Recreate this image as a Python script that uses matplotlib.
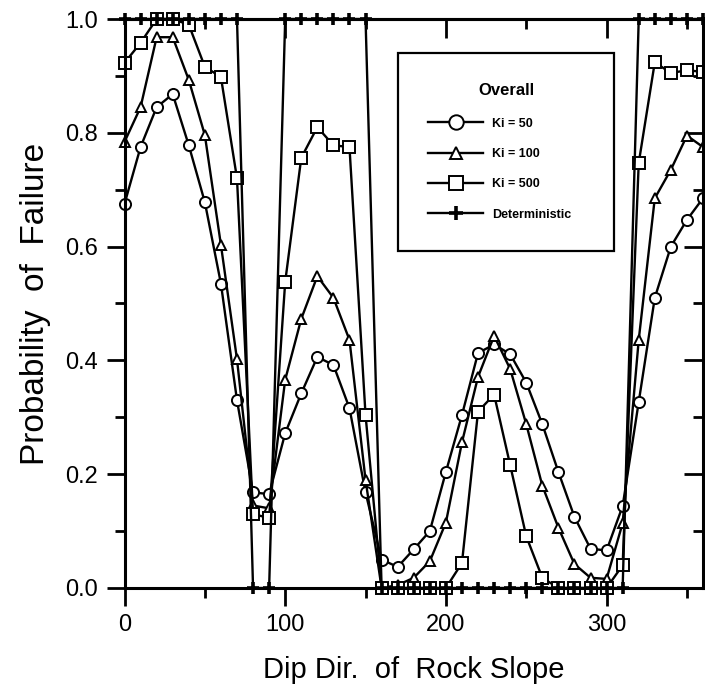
import numpy as np
import matplotlib
matplotlib.use("Agg")
import matplotlib.pyplot as plt

plt.rcParams['font.family'] = ['Liberation Sans', 'DejaVu Sans']

# dip direction of rock slope (degrees)
dip_dir = np.arange(0, 361, 10)

# probability of failure
ki_50 = [0.675, 0.775, 0.845, 0.868, 0.778, 0.678, 0.535, 0.33, 0.168, 0.165,
         0.272, 0.342, 0.406, 0.392, 0.316, 0.168, 0.05, 0.037, 0.068, 0.1,
         0.204, 0.304, 0.413, 0.428, 0.411, 0.361, 0.288, 0.204, 0.125, 0.069,
         0.066, 0.144, 0.327, 0.51, 0.6, 0.647, 0.685]
ki_100 = [0.784, 0.845, 0.968, 0.968, 0.893, 0.796, 0.603, 0.402, 0.145, 0.14,
          0.366, 0.473, 0.548, 0.51, 0.436, 0.19, 0.0, 0.005, 0.018, 0.047,
          0.115, 0.256, 0.371, 0.443, 0.385, 0.288, 0.18, 0.106, 0.042, 0.018,
          0.016, 0.114, 0.436, 0.685, 0.735, 0.795, 0.775]
ki_500 = [0.923, 0.958, 1.0, 1.0, 0.99, 0.916, 0.898, 0.72, 0.13, 0.123,
          0.538, 0.756, 0.81, 0.778, 0.775, 0.304, 0.0, 0.0, 0.0, 0.0,
          0.0, 0.044, 0.31, 0.34, 0.216, 0.091, 0.018, 0.0, 0.0, 0.0,
          0.0, 0.04, 0.747, 0.924, 0.905, 0.91, 0.907]
deterministic = [1, 1, 1, 1, 1, 1, 1, 1, 0, 0,
                 1, 1, 1, 1, 1, 1, 0, 0, 0, 0,
                 0, 0, 0, 0, 0, 0, 0, 0, 0, 0,
                 0, 0, 1, 1, 1, 1, 1]

series = [("Ki = 50", ki_50, "o", 8),
          ("Ki = 100", ki_100, "^", 7),
          ("Ki = 500", ki_500, "s", 8)]

fig = plt.figure(figsize=(7.05, 6.95), dpi=100)
ax = fig.add_axes([124.5 / 705, 1 - 588 / 695, (703 - 124.5) / 705, (588 - 19) / 695])

for label, vals, mk, ms in series:
    ax.plot(dip_dir, vals, color='black', lw=1.7, marker=mk, ms=ms,
            mfc='white', mec='black', mew=1.4, label=label, clip_on=False)
ax.plot(dip_dir, deterministic, color='black', lw=1.7, marker='+', ms=8,
        mew=2.6, label='Deterministic', clip_on=False, zorder=3)

ax.set_xlim(0, 360)
ax.set_ylim(0, 1.0)
ax.set_xticks([0, 100, 200, 300])
ax.set_xticks([50, 150, 250, 350], minor=True)
ax.set_yticks(np.arange(0, 1.01, 0.2))
ax.set_yticks(np.arange(0.1, 1.0, 0.2), minor=True)
ax.set_yticklabels([f"{v:.1f}" for v in np.arange(0, 1.01, 0.2)])

for s in ax.spines.values():
    s.set_linewidth(2.2)
ax.tick_params(which='both', direction='out', width=2, labelsize=17,
               top=False, right=False)
ax.tick_params(which='major', length=13, pad=6)
ax.tick_params(which='minor', length=7)
# inward ticks on top and right frame
ax2 = ax.secondary_xaxis('top')
ax2.set_xticks([0, 100, 200, 300])
ax2.set_xticks([50, 150, 250, 350], minor=True)
ax2.tick_params(which='both', direction='in', width=2, labeltop=False)
ax2.tick_params(which='major', length=14)
ax2.tick_params(which='minor', length=7)
ax2.spines['top'].set_linewidth(2.2)
ay2 = ax.secondary_yaxis('right')
ay2.set_yticks(np.arange(0, 1.01, 0.2))
ay2.set_yticks(np.arange(0.1, 1.0, 0.2), minor=True)
ay2.tick_params(which='both', direction='in', width=2, labelright=False)
ay2.tick_params(which='major', length=14)
ay2.tick_params(which='minor', length=7)

ax.set_xlabel("Dip Dir.  of  Rock Slope", fontsize=21, labelpad=14)
ax.set_ylabel("Probability  of  Failure", fontsize=24, labelpad=10)

leg = ax.legend(loc='upper left', bbox_to_anchor=(0.473, 0.60, 0.373, 0.34),
                mode='expand', borderaxespad=0,
                title='Overall', prop={'size': 9, 'weight': 'bold'},
                handlelength=4.4, labelspacing=1.47, borderpad=2.4,
                handletextpad=0.7, markerscale=1.3, fancybox=False,
                framealpha=1, edgecolor='black')
leg.get_title().set_fontsize(12)
leg.get_title().set_fontweight('bold')
leg.get_frame().set_linewidth(1.6)
leg._legend_box.sep = 14

fig.savefig("out.png", dpi=100)
